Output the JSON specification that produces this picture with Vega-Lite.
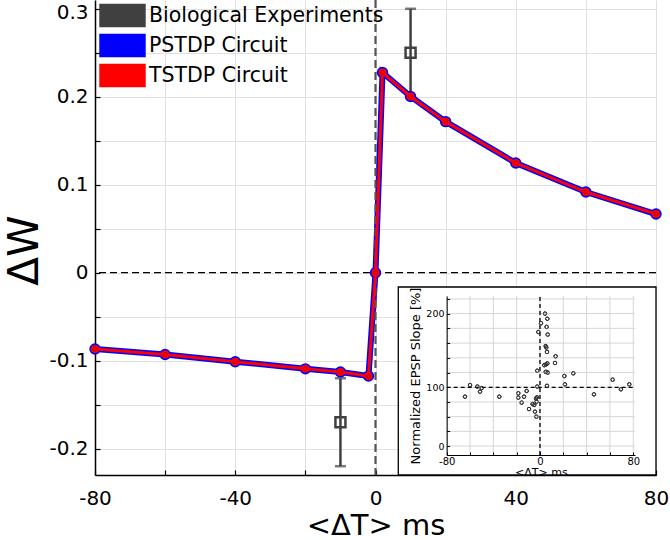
{
  "$schema": "https://vega.github.io/schema/vega-lite/v6.json",
  "width": 561,
  "height": 475,
  "autosize": {"type": "none"},
  "padding": {"left": 95, "top": 0, "right": 14, "bottom": 65},
  "background": "white",
  "config": {
    "font": "DejaVu Sans",
    "view": {"stroke": null},
    "axis": {"labelFont": "DejaVu Sans", "titleFont": "DejaVu Sans", "labelColor": "black", "titleColor": "black", "titleFontWeight": "normal", "labelFlush": false, "labelOverlap": false}
  },
  "datasets": {
    "one": [{}],
    "stdp": [
      {"series": "PSTDP Circuit", "dt": -80, "dw": -0.0867},
      {"series": "PSTDP Circuit", "dt": -60, "dw": -0.093},
      {"series": "PSTDP Circuit", "dt": -40, "dw": -0.1012},
      {"series": "PSTDP Circuit", "dt": -20, "dw": -0.1093},
      {"series": "PSTDP Circuit", "dt": -10, "dw": -0.1128},
      {"series": "PSTDP Circuit", "dt": -2, "dw": -0.1174},
      {"series": "PSTDP Circuit", "dt": 0, "dw": 0},
      {"series": "PSTDP Circuit", "dt": 2, "dw": 0.2275},
      {"series": "PSTDP Circuit", "dt": 10, "dw": 0.2003},
      {"series": "PSTDP Circuit", "dt": 20, "dw": 0.1717},
      {"series": "PSTDP Circuit", "dt": 40, "dw": 0.1247},
      {"series": "PSTDP Circuit", "dt": 60, "dw": 0.0917},
      {"series": "PSTDP Circuit", "dt": 80, "dw": 0.0667},
      {"series": "TSTDP Circuit", "dt": -80, "dw": -0.0867},
      {"series": "TSTDP Circuit", "dt": -60, "dw": -0.093},
      {"series": "TSTDP Circuit", "dt": -40, "dw": -0.1012},
      {"series": "TSTDP Circuit", "dt": -20, "dw": -0.1093},
      {"series": "TSTDP Circuit", "dt": -10, "dw": -0.1128},
      {"series": "TSTDP Circuit", "dt": -2, "dw": -0.1174},
      {"series": "TSTDP Circuit", "dt": 0, "dw": 0},
      {"series": "TSTDP Circuit", "dt": 2, "dw": 0.2275},
      {"series": "TSTDP Circuit", "dt": 10, "dw": 0.2003},
      {"series": "TSTDP Circuit", "dt": 20, "dw": 0.1717},
      {"series": "TSTDP Circuit", "dt": 40, "dw": 0.1247},
      {"series": "TSTDP Circuit", "dt": 60, "dw": 0.0917},
      {"series": "TSTDP Circuit", "dt": 80, "dw": 0.0667}
    ],
    "bio": [
      {"dt": -10, "dw": -0.17, "lo": -0.22, "hi": -0.12},
      {"dt": 10, "dw": 0.25, "lo": 0.2, "hi": 0.3}
    ],
    "epsp": [
      {"t": -64.3, "s": 84}, {"t": -60, "s": 103}, {"t": -53.7, "s": 101}, {"t": -51.4, "s": 92.6},
      {"t": -50, "s": 98.6}, {"t": -34.9, "s": 84}, {"t": -18.6, "s": 89.8}, {"t": -18.6, "s": 82.4},
      {"t": -15.7, "s": 73.9}, {"t": -13.7, "s": 84}, {"t": -11.4, "s": 93.8}, {"t": -9.4, "s": 63},
      {"t": -6.3, "s": 71.6}, {"t": -4.9, "s": 70}, {"t": -4.3, "s": 58.5}, {"t": -3.1, "s": 50},
      {"t": -3.4, "s": 81}, {"t": -2.9, "s": 75.6}, {"t": -2.6, "s": 83}, {"t": -2.3, "s": 101},
      {"t": -2.3, "s": 122.5}, {"t": -1.4, "s": 175}, {"t": 0.9, "s": 187}, {"t": 4.3, "s": 200},
      {"t": 6.3, "s": 193}, {"t": 5.7, "s": 182}, {"t": 6.6, "s": 171.6}, {"t": 4.9, "s": 155.9},
      {"t": 5.4, "s": 154}, {"t": 6, "s": 148}, {"t": 3.7, "s": 130}, {"t": 5.1, "s": 131},
      {"t": 6.3, "s": 132.4}, {"t": 4.9, "s": 121}, {"t": 6.6, "s": 120}, {"t": 6, "s": 102},
      {"t": 13.4, "s": 142}, {"t": 12.9, "s": 133}, {"t": 20.9, "s": 115.3}, {"t": 21.4, "s": 104},
      {"t": 28.6, "s": 119}, {"t": 46.3, "s": 88}, {"t": 62.3, "s": 110.4}, {"t": 69.4, "s": 96.6},
      {"t": 76.6, "s": 104}
    ],
    "gx": [{"v": -80}, {"v": -60}, {"v": -40}, {"v": -20}, {"v": 0}, {"v": 20}, {"v": 40}, {"v": 60}, {"v": 80}],
    "gy": [{"v": 0}, {"v": 25}, {"v": 50}, {"v": 75}, {"v": 100}, {"v": 120}, {"v": 140}, {"v": 160}, {"v": 180}, {"v": 200}, {"v": 220}]
  },
  "layer": [
    {
      "layer": [
        {
          "data": {"name": "stdp"},
          "transform": [{"filter": "datum.series == 'PSTDP Circuit'"}],
          "mark": {"type": "line", "strokeWidth": 6},
          "encoding": {
            "x": {"field": "dt", "type": "quantitative", "title": "<ΔT> ms",
              "scale": {"domain": [-80, 80], "nice": false, "zero": false},
              "axis": {"values": [-80, -60, -40, -20, 0, 20, 40, 60, 80],
                "labelExpr": "datum.value % 40 === 0 ? '' + datum.value : ''",
                "grid": true, "gridColor": "#e0e0e0", "gridWidth": 1,
                "domainColor": "black", "domainWidth": 1.5, "tickColor": "black", "tickWidth": 1.2, "tickSize": -5,
                "labelFontSize": 20, "labelPadding": 18, "titleFontSize": 29, "titleY": 50, "titleBaseline": "middle"}},
            "y": {"field": "dw", "type": "quantitative", "title": "ΔW",
              "scale": {"domain": [-0.23, 0.31], "nice": false, "zero": false},
              "axis": {"values": [-0.2, -0.15, -0.1, -0.05, 0, 0.05, 0.1, 0.15, 0.2, 0.25, 0.3],
                "labelExpr": "abs(round(datum.value * 10) - datum.value * 10) < 0.001 ? '' + datum.value : ''",
                "labelOffset": {"condition": {"test": "datum.value == 0.3", "value": 4}, "value": 0},
                "grid": true, "gridColor": "#e0e0e0", "gridWidth": 1,
                "domainColor": "black", "domainWidth": 1.5, "tickColor": "black", "tickWidth": 1.2, "tickSize": -5,
                "labelFontSize": 20, "labelPadding": 12, "titleFontSize": 42, "titleX": -71, "titleY": 250,
                "titleBaseline": "middle", "titleAlign": "center"}},
            "color": {"field": "series", "type": "nominal", "title": null,
              "scale": {"domain": ["Biological Experiments", "PSTDP Circuit", "TSTDP Circuit"], "range": ["#404040", "#0000ff", "#ff0000"]},
              "legend": {"orient": "none", "legendX": 12, "legendY": 0, "padding": 0,
                "symbolType": "M-1.55,-0.76H1.55V0.76H-1.55Z", "symbolSize": 841, "symbolStrokeWidth": 1.5,
                "symbolStrokeColor": "black", "labelFontSize": 20.5, "labelFont": "DejaVu Sans", "labelColor": "black",
                "labelOffset": 11, "rowPadding": 0, "labelLimit": 400,
                "encode": {"symbols": {"update": {"fill": {"scale": "color", "field": "value"}, "stroke": {"value": "black"}, "strokeWidth": {"value": 1.5}, "opacity": {"value": 1}, "fillOpacity": {"value": 1}}}}}}
          }
        },
        {
          "data": {"name": "one"},
          "mark": {"type": "rect", "fill": "white", "stroke": "black", "strokeWidth": 1.3},
          "encoding": {
            "x": {"datum": 6.5, "type": "quantitative", "title": "<ΔT> ms"},
            "x2": {"datum": 80},
            "y": {"datum": -0.23, "type": "quantitative", "title": "ΔW"},
            "y2": {"datum": -0.0163}
          }
        },
        {
          "data": {"name": "one"},
          "mark": {"type": "rule", "stroke": "#555555", "strokeWidth": 2.2, "strokeDash": [8, 4]},
          "encoding": {"x": {"datum": 0, "type": "quantitative", "title": "<ΔT> ms"}}
        },
        {
          "data": {"name": "one"},
          "mark": {"type": "rule", "stroke": "black", "strokeWidth": 1.2, "strokeDash": [7, 4]},
          "encoding": {"y": {"datum": 0, "type": "quantitative", "title": "ΔW"}}
        },
        {
          "data": {"name": "bio"},
          "mark": {"type": "rule", "stroke": "#404040", "strokeWidth": 2.5},
          "encoding": {
            "x": {"field": "dt", "type": "quantitative", "title": "<ΔT> ms"},
            "y": {"field": "lo", "type": "quantitative", "title": "ΔW"},
            "y2": {"field": "hi"}
          }
        },
        {
          "data": {"name": "bio"},
          "mark": {"type": "tick", "orient": "horizontal", "color": "#404040", "size": 11, "thickness": 2.5},
          "encoding": {
            "x": {"field": "dt", "type": "quantitative", "title": "<ΔT> ms"},
            "y": {"field": "lo", "type": "quantitative", "title": "ΔW"}
          }
        },
        {
          "data": {"name": "bio"},
          "mark": {"type": "tick", "orient": "horizontal", "color": "#404040", "size": 11, "thickness": 2.5},
          "encoding": {
            "x": {"field": "dt", "type": "quantitative", "title": "<ΔT> ms"},
            "y": {"field": "hi", "type": "quantitative", "title": "ΔW"}
          }
        },
        {
          "data": {"name": "bio"},
          "mark": {"type": "point", "shape": "square", "filled": false, "stroke": "#404040", "strokeWidth": 2.5, "size": 100, "opacity": 1},
          "encoding": {
            "x": {"field": "dt", "type": "quantitative", "title": "<ΔT> ms"},
            "y": {"field": "dw", "type": "quantitative", "title": "ΔW"}
          }
        },
        {
          "data": {"name": "stdp"},
          "transform": [{"filter": "datum.series == 'PSTDP Circuit'"}],
          "mark": {"type": "point", "shape": "circle", "filled": true, "color": "#0000ff", "size": 130, "opacity": 1},
          "encoding": {
            "x": {"field": "dt", "type": "quantitative", "title": "<ΔT> ms"},
            "y": {"field": "dw", "type": "quantitative", "title": "ΔW"}
          }
        },
        {
          "data": {"name": "stdp"},
          "transform": [{"filter": "datum.series == 'TSTDP Circuit'"}],
          "mark": {"type": "line", "strokeWidth": 3},
          "encoding": {
            "x": {"field": "dt", "type": "quantitative", "title": "<ΔT> ms"},
            "y": {"field": "dw", "type": "quantitative", "title": "ΔW"},
            "color": {"field": "series", "type": "nominal", "title": null}
          }
        },
        {
          "data": {"name": "stdp"},
          "transform": [{"filter": "datum.series == 'TSTDP Circuit'"}],
          "mark": {"type": "point", "shape": "circle", "filled": true, "color": "#ff0000", "size": 65, "opacity": 1},
          "encoding": {
            "x": {"field": "dt", "type": "quantitative", "title": "<ΔT> ms"},
            "y": {"field": "dw", "type": "quantitative", "title": "ΔW"}
          }
        },
        {
          "data": {"name": "stdp"},
          "transform": [{"filter": "datum.series == 'TSTDP Circuit'"}],
          "mark": {"type": "point", "shape": "circle", "filled": false, "stroke": "#b00000", "strokeWidth": 0.8, "size": 14, "opacity": 1},
          "encoding": {
            "x": {"field": "dt", "type": "quantitative", "title": "<ΔT> ms"},
            "y": {"field": "dw", "type": "quantitative", "title": "ΔW"}
          }
        }
      ]
    },
    {
      "layer": [
        {
          "data": {"name": "epsp"},
          "mark": {"type": "point", "shape": "circle", "filled": false, "stroke": "#333333", "strokeWidth": 1, "size": 12, "opacity": 1},
          "encoding": {
            "x": {"field": "t", "type": "quantitative", "title": "<ΔT> ms",
              "scale": {"domain": [-80, 81.5], "range": [351.7, 540], "nice": false, "zero": false},
              "axis": {"orient": "bottom", "offset": -20, "values": [-80, -60, -40, -20, 0, 20, 40, 60, 80],
                "labelExpr": "datum.value % 80 === 0 ? '' + datum.value : ''",
                "grid": false, "domainColor": "black", "domainWidth": 1, "tickColor": "black", "tickSize": -3, "tickWidth": 1,
                "labelFontSize": 10, "labelPadding": 4.5, "titleFontSize": 11, "titlePadding": 0, "zindex": 1}},
            "y": {"field": "s", "type": "quantitative", "title": "Normalized EPSP Slope [%]",
              "scale": {"domain": [-15, 0, 100, 200, 224], "range": [455, 446, 387.3, 313.6, 296], "nice": false, "zero": false},
              "axis": {"orient": "left", "offset": -351.7, "values": [0, 25, 50, 75, 100, 120, 140, 160, 180, 200, 220],
                "labelExpr": "datum.value % 100 === 0 ? '' + datum.value : ''",
                "grid": false, "domainColor": "black", "domainWidth": 1, "tickColor": "black", "tickSize": -3, "tickWidth": 1,
                "labelFontSize": 9.5, "labelPadding": 5.7, "titleFontSize": 13, "titlePadding": 3, "zindex": 1}}
          }
        },
        {
          "data": {"name": "gx"},
          "mark": {"type": "rule", "stroke": "#d6d6d6", "strokeWidth": 1},
          "encoding": {
            "x": {"field": "v", "type": "quantitative", "title": "<ΔT> ms"},
            "y": {"datum": -15, "type": "quantitative", "title": "Normalized EPSP Slope [%]"},
            "y2": {"datum": 224}
          }
        },
        {
          "data": {"name": "gy"},
          "mark": {"type": "rule", "stroke": "#d6d6d6", "strokeWidth": 1},
          "encoding": {
            "y": {"field": "v", "type": "quantitative", "title": "Normalized EPSP Slope [%]"},
            "x": {"datum": -80, "type": "quantitative", "title": "<ΔT> ms"},
            "x2": {"datum": 81.5}
          }
        },
        {
          "data": {"name": "one"},
          "mark": {"type": "rule", "stroke": "black", "strokeWidth": 1.3, "strokeDash": [4, 3]},
          "encoding": {
            "y": {"datum": 100, "type": "quantitative", "title": "Normalized EPSP Slope [%]"},
            "x": {"datum": -80, "type": "quantitative", "title": "<ΔT> ms"},
            "x2": {"datum": 81.5}
          }
        },
        {
          "data": {"name": "one"},
          "mark": {"type": "rule", "stroke": "black", "strokeWidth": 1.3, "strokeDash": [4, 3]},
          "encoding": {
            "x": {"datum": 0, "type": "quantitative", "title": "<ΔT> ms"},
            "y": {"datum": -15, "type": "quantitative", "title": "Normalized EPSP Slope [%]"},
            "y2": {"datum": 224}
          }
        },
        {
          "data": {"name": "epsp"},
          "mark": {"type": "point", "shape": "circle", "filled": false, "stroke": "#333333", "strokeWidth": 1, "size": 12, "opacity": 1},
          "encoding": {
            "x": {"field": "t", "type": "quantitative", "title": "<ΔT> ms"},
            "y": {"field": "s", "type": "quantitative", "title": "Normalized EPSP Slope [%]"}
          }
        }
      ]
    }
  ],
  "resolve": {"scale": {"x": "independent", "y": "independent"}, "axis": {"x": "independent", "y": "independent"}}
}
